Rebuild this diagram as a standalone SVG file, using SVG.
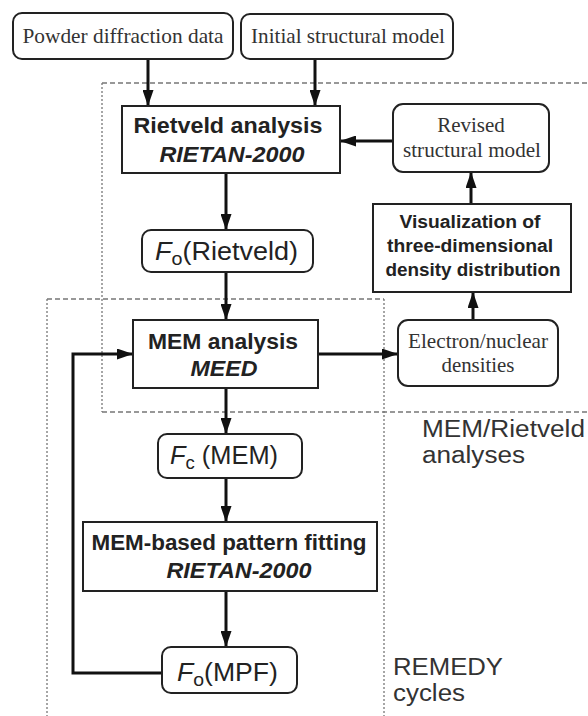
<svg xmlns="http://www.w3.org/2000/svg" width="588" height="716" viewBox="0 0 588 716">
<style>
.box{fill:#fff;stroke:#222;stroke-width:2}
.serif{font-family:"Liberation Serif","Times New Roman",serif;font-size:21px;fill:#333;text-anchor:middle}
.bold{font-family:"Liberation Sans",Arial,sans-serif;font-weight:bold;font-size:22px;fill:#222;text-anchor:middle}
.bi{font-family:"Liberation Sans",Arial,sans-serif;font-weight:bold;font-style:italic;font-size:22px;fill:#222;text-anchor:middle}
.vis{font-family:"Liberation Sans",Arial,sans-serif;font-weight:bold;font-size:18px;fill:#222;text-anchor:middle}
.f{font-family:"Liberation Sans",Arial,sans-serif;font-size:26px;fill:#222}
.lab{font-family:"Liberation Sans",Arial,sans-serif;font-size:23px;fill:#333}
.conn{fill:none;stroke:#111;stroke-width:3;marker-end:url(#ah)}
.dh{fill:none;stroke:#777;stroke-width:1.3;stroke-dasharray:5 3}
.dv{fill:none;stroke:#777;stroke-width:1.3;stroke-dasharray:2 2}
</style>
<defs>
<marker id="ah" markerUnits="userSpaceOnUse" markerWidth="16" markerHeight="11" refX="16" refY="5.5" orient="auto">
<path d="M0,0 L16,5.5 L0,11 Z" fill="#111"/>
</marker>
</defs>
<rect width="588" height="716" fill="#fff"/>
<g id="regions">
<path class="dh" d="M102,83 H588"/>
<path class="dh" d="M102,412 H588"/>
<path class="dv" d="M102,83 V412"/>
<path class="dh" d="M47,299 H384"/>
<path class="dv" d="M47,299 V716"/>
<path class="dv" d="M384,299 V716"/>
<text class="lab" x="422" y="437" textLength="163" lengthAdjust="spacingAndGlyphs">MEM/Rietveld</text>
<text class="lab" x="422" y="463" textLength="103" lengthAdjust="spacingAndGlyphs">analyses</text>
<text class="lab" x="393" y="675" textLength="110" lengthAdjust="spacingAndGlyphs">REMEDY</text>
<text class="lab" x="393" y="701" textLength="72" lengthAdjust="spacingAndGlyphs">cycles</text>
</g>
<g id="connectors">
<path class="conn" d="M148,59 V106"/>
<path class="conn" d="M315,59 V106"/>
<path class="conn" d="M393,141 H340"/>
<path class="conn" d="M471,204 V172"/>
<path class="conn" d="M226,173 V230"/>
<path class="conn" d="M226,272 V320"/>
<path class="conn" d="M318,354 H398"/>
<path class="conn" d="M473,320 V292"/>
<path class="conn" d="M226,388 V434"/>
<path class="conn" d="M226,478 V522"/>
<path class="conn" d="M226,591 V647"/>
<path class="conn" d="M162,673 H73 V354 H133"/>
</g>
<g id="powder">
<rect class="box" x="13" y="13" width="220" height="46" rx="9"/>
<text class="serif" x="123" y="43" textLength="201" lengthAdjust="spacingAndGlyphs">Powder diffraction data</text>
</g>
<g id="initial">
<rect class="box" x="241" y="14" width="212" height="45" rx="9"/>
<text class="serif" x="348" y="43" textLength="194" lengthAdjust="spacingAndGlyphs">Initial structural model</text>
</g>
<g id="rietveld">
<rect class="box" x="122" y="106" width="218" height="67"/>
<text class="bold" x="228" y="133" textLength="189" lengthAdjust="spacingAndGlyphs">Rietveld analysis</text>
<text class="bi" x="232" y="162" textLength="145" lengthAdjust="spacingAndGlyphs">RIETAN-2000</text>
</g>
<g id="revised">
<rect class="box" x="393" y="104" width="156" height="68" rx="10"/>
<text class="serif" x="471" y="132">Revised</text>
<text class="serif" x="472" y="157" textLength="138" lengthAdjust="spacingAndGlyphs">structural model</text>
</g>
<g id="visualization">
<rect class="box" x="373" y="204" width="198" height="88"/>
<text class="vis" x="470" y="228" textLength="141" lengthAdjust="spacingAndGlyphs">Visualization of</text>
<text class="vis" x="470" y="252" textLength="166" lengthAdjust="spacingAndGlyphs">three-dimensional</text>
<text class="vis" x="473" y="276" textLength="175" lengthAdjust="spacingAndGlyphs">density distribution</text>
</g>
<g id="fo-rietveld">
<rect class="box" x="142" y="230" width="171" height="42" rx="9"/>
<text class="f" x="155" y="260" textLength="143" lengthAdjust="spacingAndGlyphs"><tspan font-style="italic">F</tspan><tspan font-size="19" dy="5">o</tspan><tspan dy="-5">(Rietveld)</tspan></text>
</g>
<g id="mem">
<rect class="box" x="133" y="320" width="185" height="68"/>
<text class="bold" x="223" y="349" textLength="150" lengthAdjust="spacingAndGlyphs">MEM analysis</text>
<text class="bi" x="224" y="376" textLength="67" lengthAdjust="spacingAndGlyphs">MEED</text>
</g>
<g id="electron">
<rect class="box" x="398" y="320" width="160" height="66" rx="10"/>
<text class="serif" x="478" y="348" textLength="140" lengthAdjust="spacingAndGlyphs">Electron/nuclear</text>
<text class="serif" x="478" y="372" textLength="73" lengthAdjust="spacingAndGlyphs">densities</text>
</g>
<g id="fc-mem">
<rect class="box" x="158" y="434" width="144" height="44" rx="9"/>
<text class="f" x="170" y="464" textLength="108" lengthAdjust="spacingAndGlyphs"><tspan font-style="italic">F</tspan><tspan font-size="19" dy="5">c</tspan><tspan dy="-5"> (MEM)</tspan></text>
</g>
<g id="pattern">
<rect class="box" x="83" y="522" width="294" height="69"/>
<text class="bold" x="229" y="550" textLength="275" lengthAdjust="spacingAndGlyphs">MEM-based pattern fitting</text>
<text class="bi" x="239" y="578" textLength="145" lengthAdjust="spacingAndGlyphs">RIETAN-2000</text>
</g>
<g id="fo-mpf">
<rect class="box" x="162" y="647" width="135" height="46" rx="9"/>
<text class="f" x="177" y="681" textLength="101" lengthAdjust="spacingAndGlyphs"><tspan font-style="italic">F</tspan><tspan font-size="19" dy="5">o</tspan><tspan dy="-5">(MPF)</tspan></text>
</g>
</svg>
